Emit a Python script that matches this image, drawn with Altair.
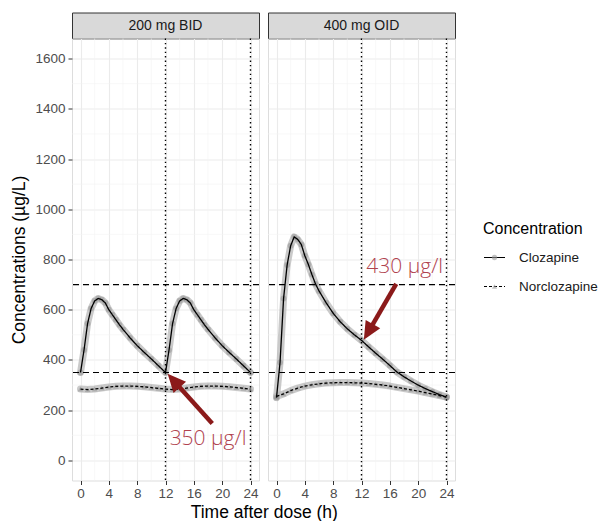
import altair as alt
import pandas as pd

# ---------------- data ----------------
panel_labels = ["200 mg BID", "400 mg OID"]
compounds = ["Clozapine", "Norclozapine"]

bid_clz_time = [0, 0.5, 1, 1.5, 2, 2.5, 3, 3.5, 4, 4.5, 5, 5.5, 6, 7, 8, 9, 10, 11, 12,
                12.5, 13, 13.5, 14, 14.5, 15, 15.5, 16, 16.5, 17, 17.5, 18, 19, 20, 21, 22, 23, 24]
bid_clz_conc = [350, 440, 545, 605, 635, 645, 640, 627, 600, 580, 560, 540, 522, 488, 457, 430, 404, 377, 350,
                440, 545, 605, 635, 645, 640, 627, 600, 580, 560, 540, 522, 488, 457, 430, 404, 377, 350]

bid_nor_time = [0, 1, 2, 3, 4, 5, 6, 7, 8, 9, 10, 11, 12, 13, 14, 15, 16, 17, 18, 19, 20, 21, 22, 23, 24]
bid_nor_conc = [284, 282, 284, 288, 292, 295, 296, 296, 295, 293, 290, 287, 284,
                282, 284, 288, 292, 295, 296, 296, 295, 293, 290, 287, 284]

oid_clz_time = [0, 0.5, 1, 1.5, 2, 2.5, 3, 3.5, 4, 4.5, 5, 5.5, 6, 7, 8, 9, 10, 11, 12,
                13, 14, 15, 16, 17, 18, 19, 20, 21, 22, 23, 24]
oid_clz_conc = [250, 390, 645, 778, 855, 890, 880, 860, 815, 780, 740, 703, 675, 628, 586, 552, 524, 500, 478,
                452, 427, 403, 378, 352, 333, 316, 300, 286, 274, 262, 252]

oid_nor_time = [0, 1, 2, 3, 4, 5, 6, 7, 8, 9, 10, 11, 12, 13, 14, 15, 16, 17, 18, 19, 20, 21, 22, 23, 24]
oid_nor_conc = [255, 265, 278, 288, 296, 301, 305, 308, 309, 310, 310, 309, 308,
                306, 303, 300, 296, 291, 286, 281, 276, 270, 264, 258, 252]

ref_levels = [350, 700]          # dashed horizontal lines
dose_times = [12, 24]            # dotted vertical lines

x_major = [0, 4, 8, 12, 16, 20, 24]
x_minor = [2, 6, 10, 14, 18, 22]
y_major = [0, 200, 400, 600, 800, 1000, 1200, 1400, 1600]
y_minor = [100, 300, 500, 700, 900, 1100, 1300, 1500]

# annotations (data units)
note_text = ["350 µg/l", "430 µg/l"]
note_t = [18.0, 18.1]
note_c = [60, 747]
arrow_tail_t = [18.6, 16.9]
arrow_tail_c = [147, 703]
arrow_shaft_end_t = [13.45, 13.18]
arrow_shaft_end_c = [308, 522]
arrow_tip_t = [12.3, 12.33]
arrow_tip_c = [345, 480]
arrow_angle = [318, 210]

# ---------------- styling ----------------
FONT = "Liberation Sans"
XS = alt.Scale(domain=[-1.2, 25.2], nice=False, zero=False)
YS = alt.Scale(domain=[-80, 1680], nice=False, zero=False)
DASH = alt.Scale(domain=compounds, range=[[1, 0], [3, 2]])
SHAPE = alt.Scale(domain=compounds, range=["circle", "triangle-up"])
PW, PH, SH = 187, 442, 26
ARROW_PATH = "M0,0L-1.2,2.6L1.2,2.6Z"
ARROW_COL = "#8B1A1A"
NOTE_COL = "#B0424E"


def x_axis():
    return alt.Axis(values=x_major, grid=True, gridColor="#EBEBEB", gridWidth=1.1, domain=False,
                    tickColor="#333333", tickSize=4, tickWidth=1, labelColor="#4D4D4D",
                    labelFontSize=13.5, labelPadding=2, labelFont=FONT, format="d", title=None)


def y_axis(first):
    kw = dict(values=y_major, grid=True, gridColor="#EBEBEB", gridWidth=1.1, domain=False)
    if first:
        kw.update(title="Concentrations (µg/L)", titleFontSize=17.5, titleColor="#000000",
                  titleFontWeight="normal", titleFont=FONT, titlePadding=6,
                  tickColor="#333333", tickSize=4, tickWidth=1, labelColor="#4D4D4D",
                  labelFontSize=13.5, labelPadding=3, labelFont=FONT, format="d")
    else:
        kw.update(title=None, labels=False, ticks=False, minExtent=0)
    return alt.Axis(**kw)


def panel(i):
    first = i == 0
    if first:
        ct, cc, nt, nc = bid_clz_time, bid_clz_conc, bid_nor_time, bid_nor_conc
    else:
        ct, cc, nt, nc = oid_clz_time, oid_clz_conc, oid_nor_time, oid_nor_conc
    df = pd.concat([
        pd.DataFrame({"t": ct, "c": cc, "Concentration": compounds[0]}),
        pd.DataFrame({"t": nt, "c": nc, "Concentration": compounds[1]}),
    ], ignore_index=True)

    X = lambda f: alt.X(f, type="quantitative", scale=XS, axis=x_axis())
    Y = lambda f: alt.Y(f, type="quantitative", scale=YS, axis=y_axis(first))

    minor_x = alt.Chart(pd.DataFrame({"t": x_minor})).mark_rule(
        color="#F3F3F3", strokeWidth=0.6).encode(x=X("t"))
    minor_y = alt.Chart(pd.DataFrame({"c": y_minor})).mark_rule(
        color="#F3F3F3", strokeWidth=0.6).encode(y=Y("c"))

    base = alt.Chart(df)
    band = base.mark_line(strokeWidth=7, color="#B8B8B8", opacity=0.75,
                          strokeCap="round", strokeJoin="round").encode(
        x=X("t"), y=Y("c"), detail="Concentration:N")
    pts = base.mark_point(filled=True, size=34, color="#8A8A8A", opacity=0.45).encode(
        x=X("t"), y=Y("c"),
        shape=alt.Shape("Concentration:N", scale=SHAPE, legend=None))
    lines = base.mark_line(strokeWidth=1.3, color="#000000").encode(
        x=X("t"), y=Y("c"),
        strokeDash=alt.StrokeDash("Concentration:N", scale=DASH, legend=None))

    hl = alt.Chart(pd.DataFrame({"c": ref_levels})).mark_rule(
        color="#000000", strokeWidth=1.2, strokeDash=[6, 4]).encode(y=Y("c"))
    vl = alt.Chart(pd.DataFrame({"t": dose_times})).mark_rule(
        color="#000000", strokeWidth=1.4, strokeDash=[1.4, 3]).encode(x=X("t"))

    adf = pd.DataFrame({"t0": [arrow_tail_t[i]], "c0": [arrow_tail_c[i]],
                        "t1": [arrow_shaft_end_t[i]], "c1": [arrow_shaft_end_c[i]],
                        "tt": [arrow_tip_t[i]], "ct": [arrow_tip_c[i]],
                        "txt": [note_text[i]], "tx": [note_t[i]], "cx": [note_c[i]]})
    shaft = alt.Chart(adf).mark_rule(color=ARROW_COL, strokeWidth=4.5, strokeCap="butt").encode(
        x=X("t0"), y=Y("c0"), x2="t1", y2="c1")
    head = alt.Chart(adf).mark_point(shape=ARROW_PATH, filled=True, size=196, opacity=1,
                                     color=ARROW_COL, angle=arrow_angle[i]).encode(
        x=X("tt"), y=Y("ct"))
    note = alt.Chart(adf).mark_text(font="Open Sans", fontSize=21, fontWeight=300,
                                    color=NOTE_COL, align="center", baseline="alphabetic").encode(
        x=X("tx"), y=Y("cx"), text="txt:N")

    plot = alt.layer(minor_x, minor_y, band, pts, lines, hl, vl, shaft, head, note).properties(
        width=PW, height=PH)

    strip = alt.Chart(pd.DataFrame({"panel": [panel_labels[i]]})).mark_text(
        font=FONT, fontSize=14, color="#1A1A1A", baseline="middle").encode(
        x=alt.value(PW / 2), y=alt.value(SH / 2 + 0.5), text="panel:N").properties(
        width=PW, height=SH,
        view=alt.ViewBackground(fill="#D9D9D9", stroke="#333333", strokeWidth=1))
    return alt.vconcat(strip, plot, spacing=0, bounds="flush")


# ---------------- legend (drawn as marks) ----------------
LY = alt.Y("Concentration:N", scale=alt.Scale(type="point", domain=compounds, range=[245, 274],
                                              padding=0), axis=None)
leg_df = pd.DataFrame({"Concentration": compounds})
leg_title = alt.Chart(pd.DataFrame({"title": ["Concentration"]})).mark_text(
    font=FONT, fontSize=16, color="#000000", align="left", baseline="middle").encode(
    x=alt.value(16), y=alt.value(216), text="title:N")
leg_line = alt.Chart(leg_df).mark_rule(color="#000000", strokeWidth=1.2).encode(
    x=alt.value(17), x2=alt.value(38), y=LY,
    strokeDash=alt.StrokeDash("Concentration:N", scale=DASH, legend=None))
leg_pts = alt.Chart(leg_df).mark_point(filled=True, size=28, color="#9A9A9A", opacity=0.6).encode(
    x=alt.value(27.5), y=LY, shape=alt.Shape("Concentration:N", scale=SHAPE, legend=None))
leg_text = alt.Chart(leg_df).mark_text(font=FONT, fontSize=13.5, color="#1A1A1A",
                                       align="left", baseline="middle").encode(
    x=alt.value(52), y=LY, text="Concentration:N")
legend = alt.layer(leg_title, leg_line, leg_pts, leg_text).properties(
    width=128, height=SH + PH, view=alt.ViewBackground(strokeWidth=0))

panels = alt.hconcat(panel(0), panel(1), spacing=5).properties(
    title=alt.TitleParams(text="Time after dose (h)", orient="bottom", anchor="middle",
                          fontSize=17.5, font=FONT, fontWeight="normal", color="#000000",
                          offset=3, dx=31))
chart = alt.hconcat(panels, legend, spacing=10).properties(
    padding={"left": 10, "top": 11.5, "right": 0, "bottom": 0}
).configure_view(stroke="#333333", strokeWidth=1).configure(font=FONT, background="#FFFFFF")

chart.save("out.html", embed_options={"renderer": "svg", "actions": False})
